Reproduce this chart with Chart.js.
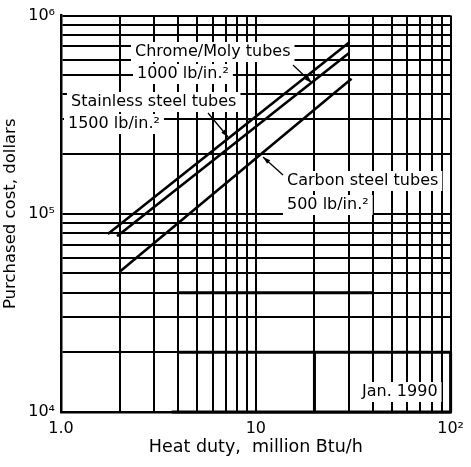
<!DOCTYPE html>
<html>
<head>
<meta charset="utf-8">
<script src="https://cdn.jsdelivr.net/npm/chart.js@4.4.1/dist/chart.umd.min.js"></script>
<style>
  body { margin: 0; background: #fff; }
  #wrap { width: 471px; height: 467px; }
</style>
</head>
<body>
<div id="wrap"><canvas id="myChart" width="471" height="467"></canvas></div>
<script>
// heat duty (million Btu/h) vs purchased cost (dollars)
const stainlessX = [1.74, 30];
const stainlessY = [79000, 730000];
const chromeX = [1.94, 30];
const chromeY = [77000, 645000];
const carbonX = [2.0, 31];
const carbonY = [51000, 480000];

// grid lines and the few labelled ticks
const gridX = [1, 2, 3, 4, 5, 6, 7, 8, 9, 10, 20, 30, 40, 50, 60, 70, 80, 90, 100];
const gridY = [1e4, 2e4, 3e4, 4e4, 5e4, 6e4, 7e4, 8e4, 9e4, 1e5, 2e5, 3e5, 4e5, 5e5, 6e5, 7e5, 8e5, 9e5, 1e6];
const xTickValues = [1, 10, 100];
const xTickLabels = ['1.0', '10', '10²'];
const yTickValues = [1e4, 1e5, 1e6];
const yTickLabels = ['10⁴', '10⁵', '10⁶'];

const FONT = '"DejaVu Sans", "Liberation Sans", sans-serif';

function pts(xs, ys) {
  return xs.map((x, i) => ({ x: x, y: ys[i] }));
}

function lineSet(label, xs, ys) {
  return {
    label: label,
    data: pts(xs, ys),
    showLine: true,
    borderColor: '#000',
    borderWidth: 2.6,
    pointRadius: 0
  };
}

// text notes: [text, x, y] in pixels
const notes = [
  ['Chrome/Moly tubes', 135, 52],
  ['1000 lb/in.²', 137, 74],
  ['Stainless steel tubes', 71, 102],
  ['1500 lb/in.²', 68, 124],
  ['Carbon steel tubes', 287, 181],
  ['500 lb/in.²', 287, 205]
];
// arrows: from, to (pixels)
const arrows = [
  [293, 65, 312, 83],
  [208, 113, 228, 137],
  [283, 175, 263, 157]
];

const notesPlugin = {
  id: 'notes',
  beforeDatasetsDraw(chart) {
    const ctx = chart.ctx;
    const xs = chart.scales.x, ys = chart.scales.y;
    ctx.save();
    // heavy lines from the scanned original
    ctx.strokeStyle = '#000';
    ctx.lineWidth = 3;
    ctx.beginPath();
    ctx.moveTo(xs.getPixelForValue(4), ys.getPixelForValue(2e4));
    ctx.lineTo(xs.getPixelForValue(100), ys.getPixelForValue(2e4));
    ctx.moveTo(xs.getPixelForValue(3.7), ys.getPixelForValue(1e4));
    ctx.lineTo(xs.getPixelForValue(100), ys.getPixelForValue(1e4));
    ctx.moveTo(xs.getPixelForValue(20), ys.getPixelForValue(2e4));
    ctx.lineTo(xs.getPixelForValue(20), ys.getPixelForValue(1e4));
    ctx.moveTo(xs.getPixelForValue(100), ys.getPixelForValue(2e4));
    ctx.lineTo(xs.getPixelForValue(100), ys.getPixelForValue(1e4));
    ctx.moveTo(xs.getPixelForValue(4), ys.getPixelForValue(4e4));
    ctx.lineTo(xs.getPixelForValue(40), ys.getPixelForValue(4e4));
    ctx.stroke();

    ctx.font = '16px ' + FONT;
    ctx.textBaseline = 'middle';
    ctx.textAlign = 'left';
    notes.forEach(([t, x, y]) => {
      const w = ctx.measureText(t).width;
      ctx.fillStyle = '#fff';
      ctx.fillRect(x - 4, y - 10, w + 8, 20);
      ctx.fillStyle = '#000';
      ctx.fillText(t, x, y);
    });

    const jan = 'Jan. 1990';
    const jw = ctx.measureText(jan).width;
    ctx.fillStyle = '#fff';
    ctx.fillRect(360, 382, jw + 6, 20);
    ctx.fillStyle = '#000';
    ctx.fillText(jan, 362, 392);
    ctx.restore();
  },
  afterDatasetsDraw(chart) {
    const ctx = chart.ctx;
    ctx.save();
    ctx.strokeStyle = '#000';
    ctx.fillStyle = '#000';
    ctx.lineWidth = 1.3;
    arrows.forEach(([x1, y1, x2, y2]) => {
      const a = Math.atan2(y2 - y1, x2 - x1);
      ctx.beginPath();
      ctx.moveTo(x1, y1);
      ctx.lineTo(x2, y2);
      ctx.stroke();
      ctx.beginPath();
      ctx.moveTo(x2, y2);
      ctx.lineTo(x2 - 8 * Math.cos(a - 0.3), y2 - 8 * Math.sin(a - 0.3));
      ctx.lineTo(x2 - 8 * Math.cos(a + 0.3), y2 - 8 * Math.sin(a + 0.3));
      ctx.closePath();
      ctx.fill();
    });
    ctx.restore();
  }
};

const gridStyle = { color: '#000', lineWidth: 2, drawTicks: false };

const options = {
  type: 'scatter',
  data: {
    datasets: [
      lineSet('Stainless steel tubes 1500 lb/in.²', stainlessX, stainlessY),
      lineSet('Chrome/Moly tubes 1000 lb/in.²', chromeX, chromeY),
      lineSet('Carbon steel tubes 500 lb/in.²', carbonX, carbonY)
    ]
  },
  options: {
    responsive: false,
    animation: false,
    devicePixelRatio: 1,
    layout: { padding: { top: 15, right: 15, left: 0, bottom: 0 } },
    plugins: { legend: { display: false }, tooltip: { enabled: false } },
    scales: {
      x: {
        type: 'logarithmic',
        min: 1,
        max: 100,
        afterBuildTicks: (s) => { s.ticks = gridX.map(v => ({ value: v })); },
        afterFit: (s) => { s.height = 55; },
        grid: gridStyle,
        border: { display: true, color: '#000', width: 2.5 },
        ticks: {
          autoSkip: false,
          maxRotation: 0,
          padding: 7,
          color: '#000',
          font: { family: FONT, size: 16 },
          callback: (v) => {
            const i = xTickValues.indexOf(v);
            return i >= 0 ? xTickLabels[i] : '';
          }
        },
        title: {
          display: true,
          text: 'Heat duty,  million Btu/h',
          color: '#000',
          font: { family: FONT, size: 17.5 },
          padding: { top: 0, bottom: 9 }
        }
      },
      y: {
        type: 'logarithmic',
        min: 1e4,
        max: 1e6,
        afterBuildTicks: (s) => { s.ticks = gridY.map(v => ({ value: v })); },
        afterFit: (s) => { s.width = 61; },
        grid: gridStyle,
        border: { display: true, color: '#000', width: 2.5 },
        ticks: {
          autoSkip: false,
          padding: 6,
          color: '#000',
          font: { family: FONT, size: 16 },
          callback: (v) => {
            const i = yTickValues.indexOf(v);
            return i >= 0 ? yTickLabels[i] : '';
          }
        },
        title: {
          display: true,
          text: 'Purchased cost, dollars',
          color: '#000',
          font: { family: FONT, size: 16.5 },
          padding: { top: 1, bottom: 0 }
        }
      }
    }
  },
  plugins: [notesPlugin]
};

let myChart;
document.addEventListener('DOMContentLoaded', () => {
  const ctx = document.getElementById('myChart').getContext('2d');
  myChart = new Chart(ctx, options);
});
</script>
</body>
</html>
